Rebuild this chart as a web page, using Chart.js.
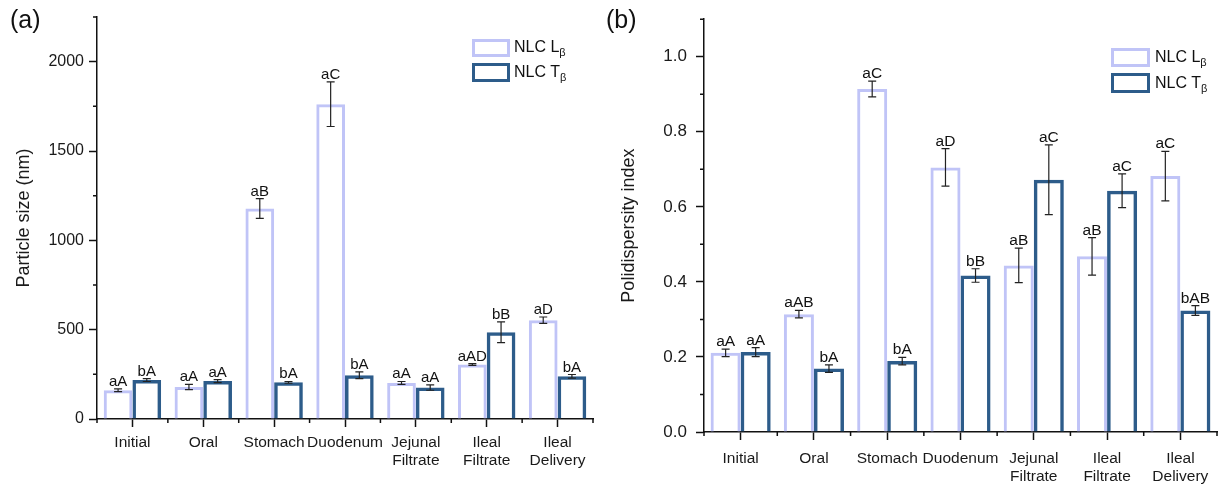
<!DOCTYPE html>
<html>
<head>
<meta charset="utf-8">
<script src="https://cdn.jsdelivr.net/npm/chart.js@4.4.0/dist/chart.umd.min.js"></script>
<style>
  body { margin: 0; background: #fff; font-family: "Liberation Sans", Arial, sans-serif; color: #111; }
  #wrap { position: relative; width: 1218px; height: 484px; overflow: hidden; }
  .panel { position: absolute; top: 0; height: 484px; }
  .tag { position: absolute; font-size: 25px; line-height: 25px; color: #111; }
  .box { position: absolute; box-sizing: border-box; background: #fff; }
  .lbl { position: absolute; font-size: 16px; line-height: 18px; color: #111; white-space: nowrap; }
  .lbl sub { font-size: 11px; vertical-align: -4px; line-height: 0; }
</style>
</head>
<body>
<div id="wrap">
  <div class="panel" style="left:0;width:600px"><canvas id="chartA"></canvas></div>
  <div class="panel" style="left:600px;width:618px"><canvas id="chartB"></canvas></div>

  <div class="tag" style="left:10px;top:7px">(a)</div>
  <div class="tag" style="left:606px;top:7px">(b)</div>

  <!-- legend (a) -->
  <div class="box" style="left:472px;top:39px;width:38px;height:18px;border:3px solid #c0c4f7"></div>
  <div class="lbl" style="left:514px;top:38px">NLC L<sub>β</sub></div>
  <div class="box" style="left:472px;top:63px;width:38px;height:19px;border:3.5px solid #2d5c8a"></div>
  <div class="lbl" style="left:514px;top:63px">NLC T<sub>β</sub></div>

  <!-- legend (b) -->
  <div class="box" style="left:1111px;top:48px;width:39px;height:19px;border:3px solid #c0c4f7"></div>
  <div class="lbl" style="left:1155px;top:48px">NLC L<sub>β</sub></div>
  <div class="box" style="left:1111px;top:73px;width:39px;height:20px;border:3.5px solid #2d5c8a"></div>
  <div class="lbl" style="left:1155px;top:74px">NLC T<sub>β</sub></div>
</div>

<script>
const categories = ['Initial', 'Oral', 'Stomach', 'Duodenum', ['Jejunal', 'Filtrate'], ['Ileal', 'Filtrate'], ['Ileal', 'Delivery']];

// (a) particle size, nm
const sizeL = [161, 179, 1178, 1762, 202, 305, 553];
const sizeLErr = [8, 15, 55, 125, 8, 5, 18];
const sizeLTags = ['aA', 'aA', 'aB', 'aC', 'aA', 'aAD', 'aD'];
const sizeT = [218, 212, 205, 245, 176, 486, 239];
const sizeTErr = [8, 8, 5, 19, 15, 58, 10];
const sizeTTags = ['bA', 'aA', 'bA', 'bA', 'aA', 'bB', 'bA'];

// (b) polydispersity index
const pdiL = [0.211, 0.314, 0.914, 0.705, 0.444, 0.468, 0.682];
const pdiLErr = [0.010, 0.010, 0.021, 0.050, 0.046, 0.050, 0.066];
const pdiLTags = ['aA', 'aAB', 'aC', 'aD', 'aB', 'aB', 'aC'];
const pdiT = [0.213, 0.169, 0.189, 0.417, 0.672, 0.643, 0.324];
const pdiTErr = [0.012, 0.010, 0.010, 0.018, 0.093, 0.045, 0.013];
const pdiTTags = ['aA', 'bA', 'bA', 'bB', 'aC', 'aC', 'bAB'];

const colorL = '#c0c4f7';
const colorT = '#2d5c8a';

Chart.defaults.font.family = '"Liberation Sans", Arial, sans-serif';
Chart.defaults.color = '#1a1a1a';

// error bars + letter tags above them
const errorBars = {
  id: 'errorBars',
  afterDatasetsDraw(chart, args, opts) {
    const ctx = chart.ctx;
    const y = chart.scales.y;
    ctx.save();
    chart.data.datasets.forEach((ds, i) => {
      chart.getDatasetMeta(i).data.forEach((bar, j) => {
        const top = y.getPixelForValue(ds.data[j] + ds.errors[j]);
        const bot = y.getPixelForValue(ds.data[j] - ds.errors[j]);
        ctx.strokeStyle = '#222';
        ctx.lineWidth = 1.2;
        ctx.beginPath();
        ctx.moveTo(bar.x, top); ctx.lineTo(bar.x, bot);
        ctx.moveTo(bar.x - 4, top); ctx.lineTo(bar.x + 4, top);
        ctx.moveTo(bar.x - 4, bot); ctx.lineTo(bar.x + 4, bot);
        ctx.stroke();
        ctx.fillStyle = '#111';
        ctx.font = opts.font;
        ctx.textAlign = 'center';
        ctx.textBaseline = 'alphabetic';
        ctx.fillText(ds.tags[j], bar.x, top - 3);
      });
    });
    ctx.restore();
  }
};

// short minor ticks: odd multiples of the step on y, category edges on x
const minorTicks = {
  id: 'minorTicks',
  afterDraw(chart, args, opts) {
    const ctx = chart.ctx, x = chart.scales.x, y = chart.scales.y, area = chart.chartArea;
    ctx.save();
    ctx.strokeStyle = '#111';
    ctx.lineWidth = 1.5;
    ctx.beginPath();
    for (let k = 1; k * opts.step <= y.max + 1e-9; k += 2) {
      const py = y.getPixelForValue(k * opts.step);
      ctx.moveTo(area.left, py); ctx.lineTo(area.left - 4, py);
    }
    for (let i = 0; i <= categories.length; i++) {
      const px = x.getPixelForValue(i - 0.5);
      ctx.moveTo(px, area.bottom); ctx.lineTo(px, area.bottom + 4);
    }
    ctx.stroke();
    ctx.restore();
  }
};

function isMajor(v, step) {
  return Math.round(v / step) % 2 === 0;
}

function createChart(id, s) {
  return new Chart(document.getElementById(id), {
    type: 'bar',
    data: {
      labels: categories,
      datasets: [
        { label: 'NLC Lβ', data: s.l, errors: s.lErr, tags: s.lTags, backgroundColor: 'rgba(255,255,255,0)', borderColor: colorL, borderWidth: 3 },
        { label: 'NLC Tβ', data: s.t, errors: s.tErr, tags: s.tTags, backgroundColor: 'rgba(255,255,255,0)', borderColor: colorT, borderWidth: 3.5 }
      ]
    },
    options: {
      responsive: true,
      maintainAspectRatio: false,
      animation: false,
      layout: { padding: s.padding },
      datasets: { bar: { categoryPercentage: s.catPct, barPercentage: 1 } },
      plugins: {
        legend: { display: false },
        tooltip: { enabled: false },
        errorBars: { font: s.tagFont },
        minorTicks: { step: s.step }
      },
      scales: {
        x: {
          grid: { display: true, drawOnChartArea: false, offset: false, tickLength: 8, tickWidth: 1.5, tickColor: '#111' },
          border: { display: true, color: '#111', width: 1.5 },
          ticks: { font: { size: s.xFont, lineHeight: 1.2 }, padding: s.xPad, maxRotation: 0, autoSkip: false },
          afterFit: sc => { sc.height = s.xHeight; }
        },
        y: {
          min: 0,
          max: s.max,
          grid: {
            drawOnChartArea: false, tickLength: 8, tickWidth: 1.5,
            tickColor: c => (c.tick && !isMajor(c.tick.value, s.step)) ? 'rgba(0,0,0,0)' : '#111'
          },
          border: { display: true, color: '#111', width: 1.5 },
          ticks: {
            stepSize: s.step,
            callback: v => isMajor(v, s.step) ? s.fmt(v) : '',
            font: { size: s.yFont },
            padding: s.yPad
          },
          title: { display: true, text: s.title, font: { size: 18 }, padding: { top: s.titlePad, bottom: 0 } },
          afterFit: sc => { sc.width = s.yWidth; }
        }
      }
    },
    plugins: [errorBars, minorTicks]
  });
}

createChart('chartA', {
  l: sizeL, lErr: sizeLErr, lTags: sizeLTags,
  t: sizeT, tErr: sizeTErr, tTags: sizeTTags,
  max: 2250, step: 250, fmt: v => String(v),
  title: 'Particle size (nm)', titlePad: 13,
  padding: { top: 17, right: 7, left: 0, bottom: 0 },
  catPct: 0.81, tagFont: '15px "Liberation Sans", Arial, sans-serif',
  xFont: 15.5, xPad: 6, xHeight: 65,
  yFont: 16, yPad: 5, yWidth: 97
});

createChart('chartB', {
  l: pdiL, lErr: pdiLErr, lTags: pdiLTags,
  t: pdiT, tErr: pdiTErr, tTags: pdiTTags,
  max: 1.1, step: 0.1, fmt: v => v.toFixed(1),
  title: 'Polidispersity index', titlePad: 18,
  padding: { top: 14, right: 1, left: 0, bottom: 0 },
  catPct: 0.82, tagFont: '15.5px "Liberation Sans", Arial, sans-serif',
  xFont: 15.5, xPad: 9, xHeight: 52,
  yFont: 17, yPad: 9, yWidth: 104
});
</script>
</body>
</html>
